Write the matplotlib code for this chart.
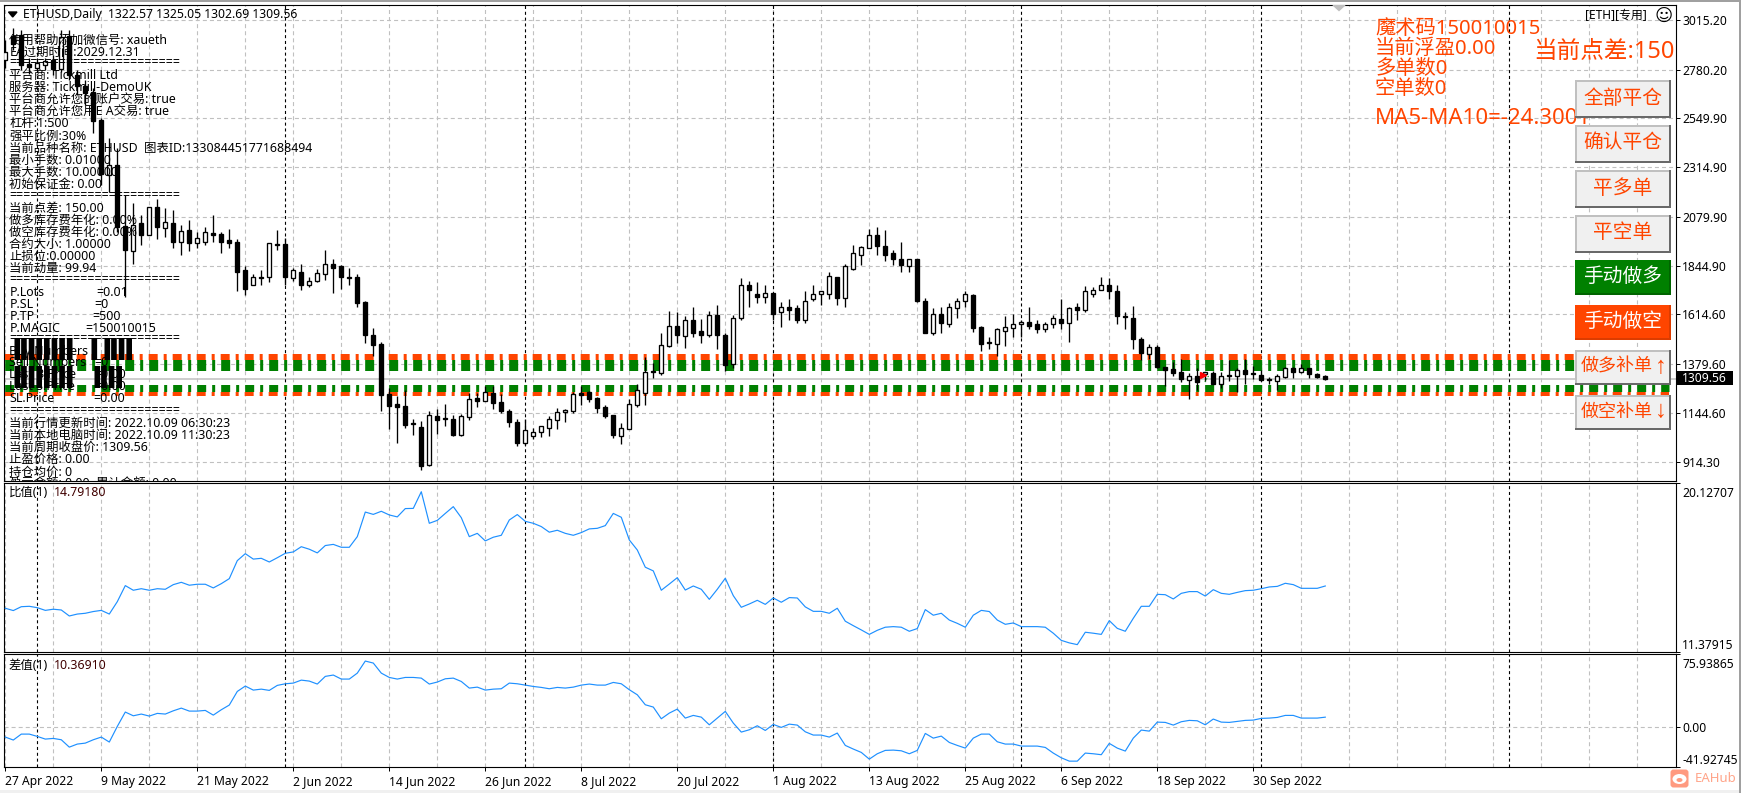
import matplotlib
matplotlib.use('Agg')
import matplotlib.pyplot as plt
from matplotlib.patches import Rectangle, FancyBboxPatch, Ellipse, Polygon
from matplotlib.transforms import Affine2D, ScaledTranslation
import numpy as np

plt.rcParams['font.family'] = ['Noto Sans', 'Noto Sans CJK SC', 'DejaVu Sans']
plt.rcParams['lines.scale_dashes'] = False
plt.rcParams['axes.unicode_minus'] = False

# daily ETHUSD bars, 27 Apr 2022 .. 9 Oct 2022
opens = [2826,2940,2945,2807,2788,2802,2826,2783,2940,2754,
2702,2673,2540,2277,2325,2034,1915,2048,1991,2125,
2024,2048,1958,2015,1953,1962,2001,1996,1967,1958,
1824,1757,1795,1791,1948,1948,1786,1819,1757,1772,
1805,1857,1843,1793,1791,1676,1519,1476,1237,1190,
1180,1096,1080,899,1132,1120,1118,1042,1128,1218,
1204,1242,1199,1156,1104,1004,1037,1056,1075,1113,
1152,1156,1242,1247,1218,1175,1137,1037,1070,1185,
1242,1344,1338,1466,1562,1514,1586,1538,1519,1610,
1519,1380,1600,1757,1714,1700,1719,1624,1648,1643,
1586,1686,1710,1714,1795,1691,1829,1900,1929,1991,
1939,1905,1881,1843,1877,1681,1528,1619,1571,1643,
1681,1705,1557,1483,1476,1538,1552,1571,1581,1571,
1547,1567,1595,1576,1648,1638,1710,1729,1757,1724,
1607,1600,1500,1428,1462,1366,1357,1342,1304,1323,
1333,1338,1285,1325,1323,1352,1335,1328,1306,1299,
1318,1361,1342,1361,1333,1322.57]
highs = [2921,2978,2969,2835,2826,2835,2850,2969,2969,2778,
2730,2692,2549,2454,2406,2182,2144,2086,2125,2163,
2120,2110,2039,2063,2005,2029,2086,2005,2020,1972,
1843,1805,1824,1953,2015,1977,1838,1853,1795,1829,
1920,1877,1848,1834,1805,1681,1552,1485,1266,1228,
1256,1118,1109,1156,1166,1190,1137,1142,1242,1242,
1276,1276,1237,1166,1118,1118,1075,1085,1132,1171,
1166,1247,1276,1252,1223,1185,1137,1099,1214,1285,
1414,1385,1528,1629,1624,1605,1648,1595,1629,1662,
1524,1614,1786,1772,1767,1753,1719,1676,1686,1662,
1724,1753,1724,1819,1795,1853,1943,1939,2020,2029,
2015,1920,1958,1881,1877,1691,1643,1648,1671,1695,
1724,1710,1562,1509,1552,1605,1619,1586,1648,1586,
1581,1610,1686,1648,1671,1748,1743,1791,1786,1757,
1624,1657,1505,1476,1471,1366,1390,1404,1338,1361,
1342,1347,1342,1400,1361,1404,1371,1352,1318,1333,
1366,1366,1380,1361,1338,1325.05]
lows = [2788,2874,2778,2759,2778,2778,2754,2769,2730,2659,
2611,2478,2230,2196,2005,1700,1857,1943,1991,1972,
1982,1929,1896,1915,1929,1943,1958,1905,1929,1724,
1705,1753,1757,1767,1920,1753,1776,1729,1743,1767,
1781,1719,1738,1757,1648,1481,1419,1156,1070,1004,
1075,1042,875,894,1047,1085,1037,1037,1113,1175,
1204,1166,1147,1080,989,994,1023,1032,1037,1070,
1104,1147,1185,1199,1147,1123,1028,999,1070,1175,
1185,1314,1328,1462,1481,1457,1509,1481,1509,1452,
1347,1361,1586,1648,1671,1667,1590,1557,1586,1576,
1576,1681,1662,1686,1662,1652,1824,1848,1929,1900,
1867,1848,1815,1815,1676,1524,1519,1524,1557,1600,
1648,1533,1442,1452,1419,1466,1509,1505,1543,1528,
1533,1552,1547,1485,1590,1624,1700,1729,1686,1567,
1547,1452,1400,1404,1361,1276,1323,1295,1214,1256,
1299,1285,1266,1299,1247,1285,1309,1299,1285,1256,
1314,1314,1338,1314,1314,1302.69]
closes = [2864,2902,2802,2792,2811,2821,2783,2936,2754,2702,
2668,2535,2282,2325,2029,1920,2039,1991,2125,2029,
2053,1958,2010,1953,1977,2005,1991,1962,1953,1819,
1738,1791,1786,1953,1943,1791,1824,1753,1776,1810,
1857,1838,1791,1789,1671,1519,1471,1233,1180,1175,
1090,1092,894,1137,1113,1116,1042,1132,1214,1204,
1247,1194,1156,1104,1004,1066,1056,1085,1118,1152,
1161,1237,1233,1214,1171,1132,1042,1075,1190,1256,
1342,1340,1471,1562,1519,1586,1524,1519,1610,1519,
1376,1600,1757,1729,1700,1719,1619,1652,1638,1586,
1681,1714,1724,1800,1691,1843,1905,1934,1991,1939,
1900,1881,1848,1877,1681,1528,1619,1576,1648,1681,
1710,1552,1476,1479,1547,1557,1571,1581,1562,1547,
1571,1600,1576,1643,1638,1724,1733,1757,1724,1605,
1603,1500,1433,1462,1366,1352,1338,1309,1323,1295,
1342,1285,1323,1321,1352,1333,1331,1304,1302,1323,
1361,1342,1361,1333,1318,1309.56]

# ratio indicator
ratio = [13.64,13.52,13.72,13.74,13.67,13.53,13.59,13.55,13.24,13.34,
13.38,13.47,13.53,13.34,13.98,14.81,14.57,14.65,14.57,14.65,
14.62,14.86,14.98,14.83,14.88,14.88,14.69,14.91,15.17,16.10,
16.46,16.18,16.22,16.03,16.25,16.48,16.55,16.82,16.69,16.50,
16.88,16.94,16.79,16.79,17.34,18.61,18.49,18.65,18.46,18.36,
18.79,18.80,19.66,18.03,18.18,18.54,18.89,18.32,17.34,17.51,
17.12,17.31,17.41,18.20,18.48,18.13,18.03,17.86,17.57,17.67,
17.51,17.41,17.55,17.74,17.77,17.91,18.54,18.34,17.17,16.65,
15.76,15.57,14.57,14.89,15.22,14.58,14.79,14.62,14.10,14.62,
15.19,14.29,13.69,13.86,14.05,13.84,14.17,13.95,14.19,14.17,
13.71,13.48,13.48,13.38,13.64,12.97,12.74,12.52,12.29,12.50,
12.66,12.69,12.66,12.45,12.59,13.57,13.28,13.38,13.03,12.86,
12.66,13.28,13.53,13.47,13.03,12.81,12.88,12.69,12.69,12.69,
12.66,12.35,11.98,11.85,11.76,12.40,12.35,12.29,13.00,12.60,
12.45,13.12,13.74,13.74,14.36,14.34,14.12,14.41,14.50,14.50,
14.27,14.60,14.41,14.36,14.46,14.55,14.57,14.65,14.74,14.77,
14.93,14.86,14.67,14.67,14.67,14.79]

# difference indicator
diff = [-10.4,-13.5,-7.3,-7.3,-9.7,-12.5,-11.8,-13.2,-20.9,-17.7,
-16.7,-13.2,-10.4,-15.6,0.7,15.7,11.8,13.6,11.5,14.3,
13.6,17.0,19.8,16.7,16.7,17.4,12.5,18.1,23.0,37.2,
42.8,38.6,39.6,38.3,43.5,45.2,45.9,49.0,48.0,44.9,
52.9,54.3,50.1,50.1,56.3,68.9,66.8,56.3,51.8,50.1,
51.8,51.8,51.1,44.9,47.0,50.4,51.1,47.6,40.7,41.7,
38.6,39.6,40.0,45.9,45.2,43.8,42.4,41.4,40.0,41.4,
40.7,41.7,43.8,44.9,43.8,43.8,46.6,45.2,39.0,33.7,
23.3,20.9,8.7,14.6,18.8,9.4,12.2,10.4,2.4,9.4,
16.4,4.2,-5.2,-2.8,1.4,-3.5,2.8,-0.3,3.1,2.1,
-4.9,-8.3,-8.3,-10.4,-6.2,-19.1,-22.9,-26.4,-33.4,-27.8,
-24.3,-24.0,-24.7,-27.8,-24.3,-6.6,-11.5,-9.4,-16.0,-19.1,
-21.9,-11.5,-7.3,-7.3,-15.3,-17.7,-17.7,-19.8,-19.8,-19.8,
-21.2,-27.1,-32.0,-35.5,-35.5,-27.1,-27.8,-28.8,-17.0,-21.9,
-25.0,-11.5,-3.1,-4.2,5.2,4.9,2.1,5.6,7.0,6.6,
2.4,8.4,5.2,4.9,5.9,7.0,7.3,9.1,9.4,10.1,
12.2,12.2,9.4,9.4,9.4,10.37]

price_ticks = [3015.20,2780.20,2549.90,2314.90,2079.90,1844.90,1614.60,1379.60,1144.60,914.30]
date_labels = ['27 Apr 2022','9 May 2022','21 May 2022','2 Jun 2022','14 Jun 2022','26 Jun 2022','8 Jul 2022',
               '20 Jul 2022','1 Aug 2022','13 Aug 2022','25 Aug 2022','6 Sep 2022','18 Sep 2022','30 Sep 2022']
month_starts = [4, 35, 65, 96, 127, 157, 188]  # bar index of each 1st of month
grid_bars = list(range(0, 209, 6))
label_bars = list(range(0, 157, 12))

ratio_lim = (11.37915, 20.12707)
diff_lim = (-41.92745, 75.93865)
band_prices = [(1414, 6, 'orangered'), (1373, 11, 'green'), (1264, 7, 'green'), (1237, 4, 'orangered')]

sep = '=' * 24
info_lines = [
    (40, '使用帮助添加微信号: xaueth'), (52, 'EA过期时间:2029.12.31'), (63, sep),
    (75.5, '平台商: Tickmill Ltd'), (87.5, '服务器: Tickmill-DemoUK'), (100, '平台商允许您的账户交易: true'),
    (112, '平台商允许您用E A交易: true'), (124, '杠杆:1:500'), (136, '强平比例:30%'),
    (148, '当前品种名称: ETHUSD  图表ID:133084451771688494'), (160, '最小手数: 0.01000'),
    (172, '最大手数: 10.00000'), (184, '初始保证金: 0.00'), (196, sep),
    (208, '当前点差: 150.00'), (220, '做多库存费年化: 0.00%'), (232, '做空库存费年化: 0.00%'),
    (244, '合约大小: 1.00000'), (256, '止损位:0.00000'), (268, '当前动量: 99.94'), (280, sep),
    (339, sep), (351, 'Buy Numbers'), (363, 'Sell Numbers'), (375, 'Last B.Price'),
    (387, 'Last S.Price'), (399, 'SL.Price'), (411, sep),
    (423, '当前行情更新时间: 2022.10.09 06:30:23'), (435, '当前本地电脑时间: 2022.10.09 11:30:23'),
    (447, '当前周期收盘价: 1309.56'), (459, '止盈价格: 0.00'), (472, '持仓均价: 0'), (483, '盈亏金额: 0.00  累计金额: 0.00'),
]
param_lines = [(292, 'P.Lots', 96, '=0.01'), (304, 'P.SL', 94, '=0'), (316, 'P.TP', 92, '=500'), (328, 'P.MAGIC', 85, '=150010015'),
               (363, '', 94, '=0'), (375, '', 94, '=0.00'), (387, '', 94, '=0.00'), (399, '', 93, '=0.00')]
buttons = [('全部平仓', '', 80, 118, '#F0F0F0'), ('确认平仓', '', 125, 163, '#F0F0F0'), ('平多单', '', 170, 208, '#F0F0F0'),
           ('平空单', '', 215, 253, '#F0F0F0'), ('手动做多', '', 260, 295, 'green'), ('手动做空', '', 305, 340, 'orangered'),
           ('做多补单', '↑', 350, 385, '#F0F0F0'), ('做空补单', '↓', 395, 430, '#F0F0F0')]

W, H = 1741, 793
fig = plt.figure(figsize=(W / 100, H / 100), dpi=100, facecolor='white')
px = Affine2D().scale(1 / W, -1 / H).translate(0, 1) + fig.transFigure

def panel(y0, y1):
    a = fig.add_axes([4.3 / W, 1 - y1 / H, (1676 - 4.3) / W, (y1 - y0) / H])
    a.set_xlim(-0.125, 208.84)
    a.set_xticks([])
    a.yaxis.tick_right()
    a.tick_params(axis='y', length=2.9, width=0.72, pad=1.6, labelsize=8.7)
    for s in a.spines.values():
        s.set_linewidth(0.8)
    a.vlines(grid_bars, 0, 1, transform=a.get_xaxis_transform(), color='#C0C0C0', lw=0.8,
             linestyles=[(0, (2.9, 2.2))], zorder=1)
    a.vlines(month_starts, 0, 1, transform=a.get_xaxis_transform(), color='black', lw=0.8,
             linestyles=[(0, (2.2, 2.0))], zorder=1.5)
    return a

ax = panel(4.5, 480.7)
ax2 = panel(482.7, 652)
ax3 = panel(654.3, 767.3)

# main candles
ax.set_ylim(823, 3090.6)
ax.set_yticks(price_ticks, [f'{p:.2f}' for p in price_ticks])
ax.hlines(price_ticks, 0, 1, transform=ax.get_yaxis_transform(), color='#C0C0C0', lw=0.8,
          linestyles=[(0, (2.9, 2.2))], zorder=1)
ax.axhline(closes[-1], color='#C0C0C0', lw=1.1, zorder=1.2)

dash = (6.0, (2.16, 4.32, 6.48, 4.32))
for price, thick, col in band_prices:
    ax.plot([-0.125, 208.0], [price, price], color=col, lw=thick * 0.72, linestyle=dash,
            dash_capstyle='butt', zorder=1.8)

x = np.arange(len(closes))
o = np.array(opens)
c = np.array(closes)
up = c >= o
ax.vlines(x, lows, highs, color='black', lw=0.95, zorder=3)
ax.bar(x[up], (c - o)[up], bottom=o[up], width=0.5, facecolor='white', edgecolor='black', lw=0.95, zorder=4)
ax.bar(x[~up], (c - o)[~up], bottom=o[~up], width=0.5, facecolor='black', edgecolor='black', lw=0.95, zorder=4)
ax.plot([149.7], [1328], marker='>', ms=4.5, color='red', zorder=5)
ax.plot([150.4, 149.9], [1322, 1290], color='green', lw=0.7, linestyle=(0, (1, 1)), zorder=5)

# indicators
ax2.set_ylim(*ratio_lim)
ax2.plot(x, ratio, color='dodgerblue', lw=0.85, zorder=3)
ax2.set_yticks(list(ratio_lim), [f'{v:.5f}' for v in ratio_lim])
ax3.set_ylim(*diff_lim)
ax3.plot(x, diff, color='dodgerblue', lw=0.85, zorder=3)
ax3.axhline(0, color='#C0C0C0', lw=0.8, linestyle=(0, (2.9, 2.2)), zorder=1)
ax3.set_yticks([diff_lim[0], 0, diff_lim[1]], [f'{diff_lim[0]:.5f}', '0.00', f'{diff_lim[1]:.5f}'])

# extreme labels sit inside the panel height
for a in (ax2, ax3):
    labels = a.yaxis.get_ticklabels(which='major')
    labels[0].set_transform(labels[0].get_transform() + ScaledTranslation(0, 8 / 100, fig.dpi_scale_trans))
    labels[-1].set_transform(labels[-1].get_transform() + ScaledTranslation(0, -9 / 100, fig.dpi_scale_trans))

ax3.set_xticks(label_bars, date_labels, ha='left', fontsize=8.7)
ax3.tick_params(axis='x', length=2.9, width=0.72, pad=2.5)

# text block in the chart corner
def chart_text(a, xp, yp, s, size=8.9, color='black', **kw):
    return a.text(xp, yp, s, transform=px, fontsize=size, color=color, va='center', ha=kw.pop('ha', 'left'),
                  clip_on=True, zorder=kw.pop('zorder', 6), **kw)

chart_text(ax, 23, 14.5, 'ETHUSD,Daily  1322.57 1325.05 1302.69 1309.56', 8.8)
ax.add_patch(Polygon([[8.5, 12], [17, 12], [12.7, 17]], closed=True, color='black', transform=px, zorder=6))
for yp, s in info_lines:
    chart_text(ax, 9.3, yp, s)
for yp, name, xv, val in param_lines:
    if name:
        chart_text(ax, 9.3, yp, name)
    chart_text(ax, xv, yp, val)

# overdrawn order lines, unreadable in the original too
for xp, yp, s in [(13, 352, 'llllllll'), (90, 352, 'l'), (103, 352, 'llll'),
                  (13, 380, 'llllllll'), (93, 380, 'llll')]:
    for dx in (-1.5, -0.5, 0.5, 1.5):
        chart_text(ax, xp + dx, yp, s, 21, fontweight='bold')

chart_text(ax, 1375, 29, '魔术码150010015', 14.6, 'orangered')
chart_text(ax, 1375, 49, '当前浮盈0.00', 14.6, 'orangered')
chart_text(ax, 1375, 69, '多单数0', 14.6, 'orangered')
chart_text(ax, 1375, 89, '空单数0', 14.6, 'orangered')
chart_text(ax, 1375, 118, 'MA5-MA10=-24.3001', 16, 'orangered')
chart_text(ax, 1533, 51.5, '当前点差:150.00', 17, 'orangered')
chart_text(ax, 1585.5, 15.5, '[ETH][专用]', 8.6)
chart_text(ax, 1655, 15.5, '☺', 12.5)
ax.add_patch(Polygon([[1333, 5], [1345, 5], [1339, 10.5]], closed=True, color='#C0C0C0', transform=px, zorder=6))

# order buttons
for label, arrow, y0, y1, col in buttons:
    top = col == '#F0F0F0'
    edge_lt = '#C0C0C0' if top else col
    edge_rb = '#696969' if top else ('#006400' if col == 'green' else '#DC3C00')
    fig.add_artist(Rectangle((1575, y0), 96, y1 - y0, transform=px, facecolor=edge_rb, edgecolor='none', zorder=8))
    fig.add_artist(Rectangle((1575, y0), 94, y1 - y0 - 2, transform=px, facecolor=edge_lt, edgecolor='none', zorder=8.1))
    fig.add_artist(Rectangle((1577, y0 + 2), 92, y1 - y0 - 4, transform=px, facecolor=col, edgecolor='none', zorder=8.2))
    txt_col = 'orangered' if top else 'white'
    if arrow:
        fig.text(1581, (y0 + y1) / 2 - 0.5, label, transform=px, fontsize=13, ha='left', va='center', zorder=9, color=txt_col)
        fig.text(1661, (y0 + y1) / 2 - 1, arrow, transform=px, fontsize=17, ha='center', va='center', zorder=9,
                 color=txt_col, family='Liberation Sans')
    else:
        fig.text(1623, (y0 + y1) / 2 - 0.5, label, transform=px, fontsize=14.2, ha='center', va='center', zorder=9,
                 color=txt_col)

# last price tag
fig.add_artist(Rectangle((1677, 371), 56, 14, transform=px, facecolor='black', edgecolor='none', zorder=8))
fig.text(1682, 378, f'{closes[-1]:.2f}', transform=px, color='white', fontsize=8.7, va='center', zorder=9)

# indicator captions
chart_text(ax2, 8.5, 493, '比值(1)')
chart_text(ax2, 54, 493, '14.79180', color='#400000')
chart_text(ax3, 8.5, 665.5, '差值(1)')
chart_text(ax3, 54, 665.5, '10.36910', color='#400000')

# window edges and watermark
fig.add_artist(Rectangle((0, 0), W, 2, transform=px, facecolor='#A0A0A0', edgecolor='none', zorder=7))
fig.add_artist(Rectangle((0, 790), W, 3, transform=px, facecolor='#F0F0F0', edgecolor='none', zorder=7))
fig.add_artist(Rectangle((1739, 0), 2, H, transform=px, facecolor='#A0A0A0', edgecolor='none', zorder=7))
fig.add_artist(FancyBboxPatch((1672, 771), 15, 15, boxstyle='round,pad=1.5,rounding_size=3', transform=px,
                              facecolor='#FF9A80', edgecolor='none', zorder=8))
fig.add_artist(Ellipse((1679.5, 779), 14, 10, transform=px, facecolor='white', edgecolor='none', zorder=9))
fig.add_artist(Ellipse((1679.5, 780), 6, 4, transform=px, facecolor='#FF9A80', edgecolor='none', zorder=10))
fig.text(1695, 778, 'EAHub', transform=px, color='#FFA58A', fontsize=9.5, fontweight='bold', va='center', zorder=9)

fig.savefig('out.png', dpi=100)
